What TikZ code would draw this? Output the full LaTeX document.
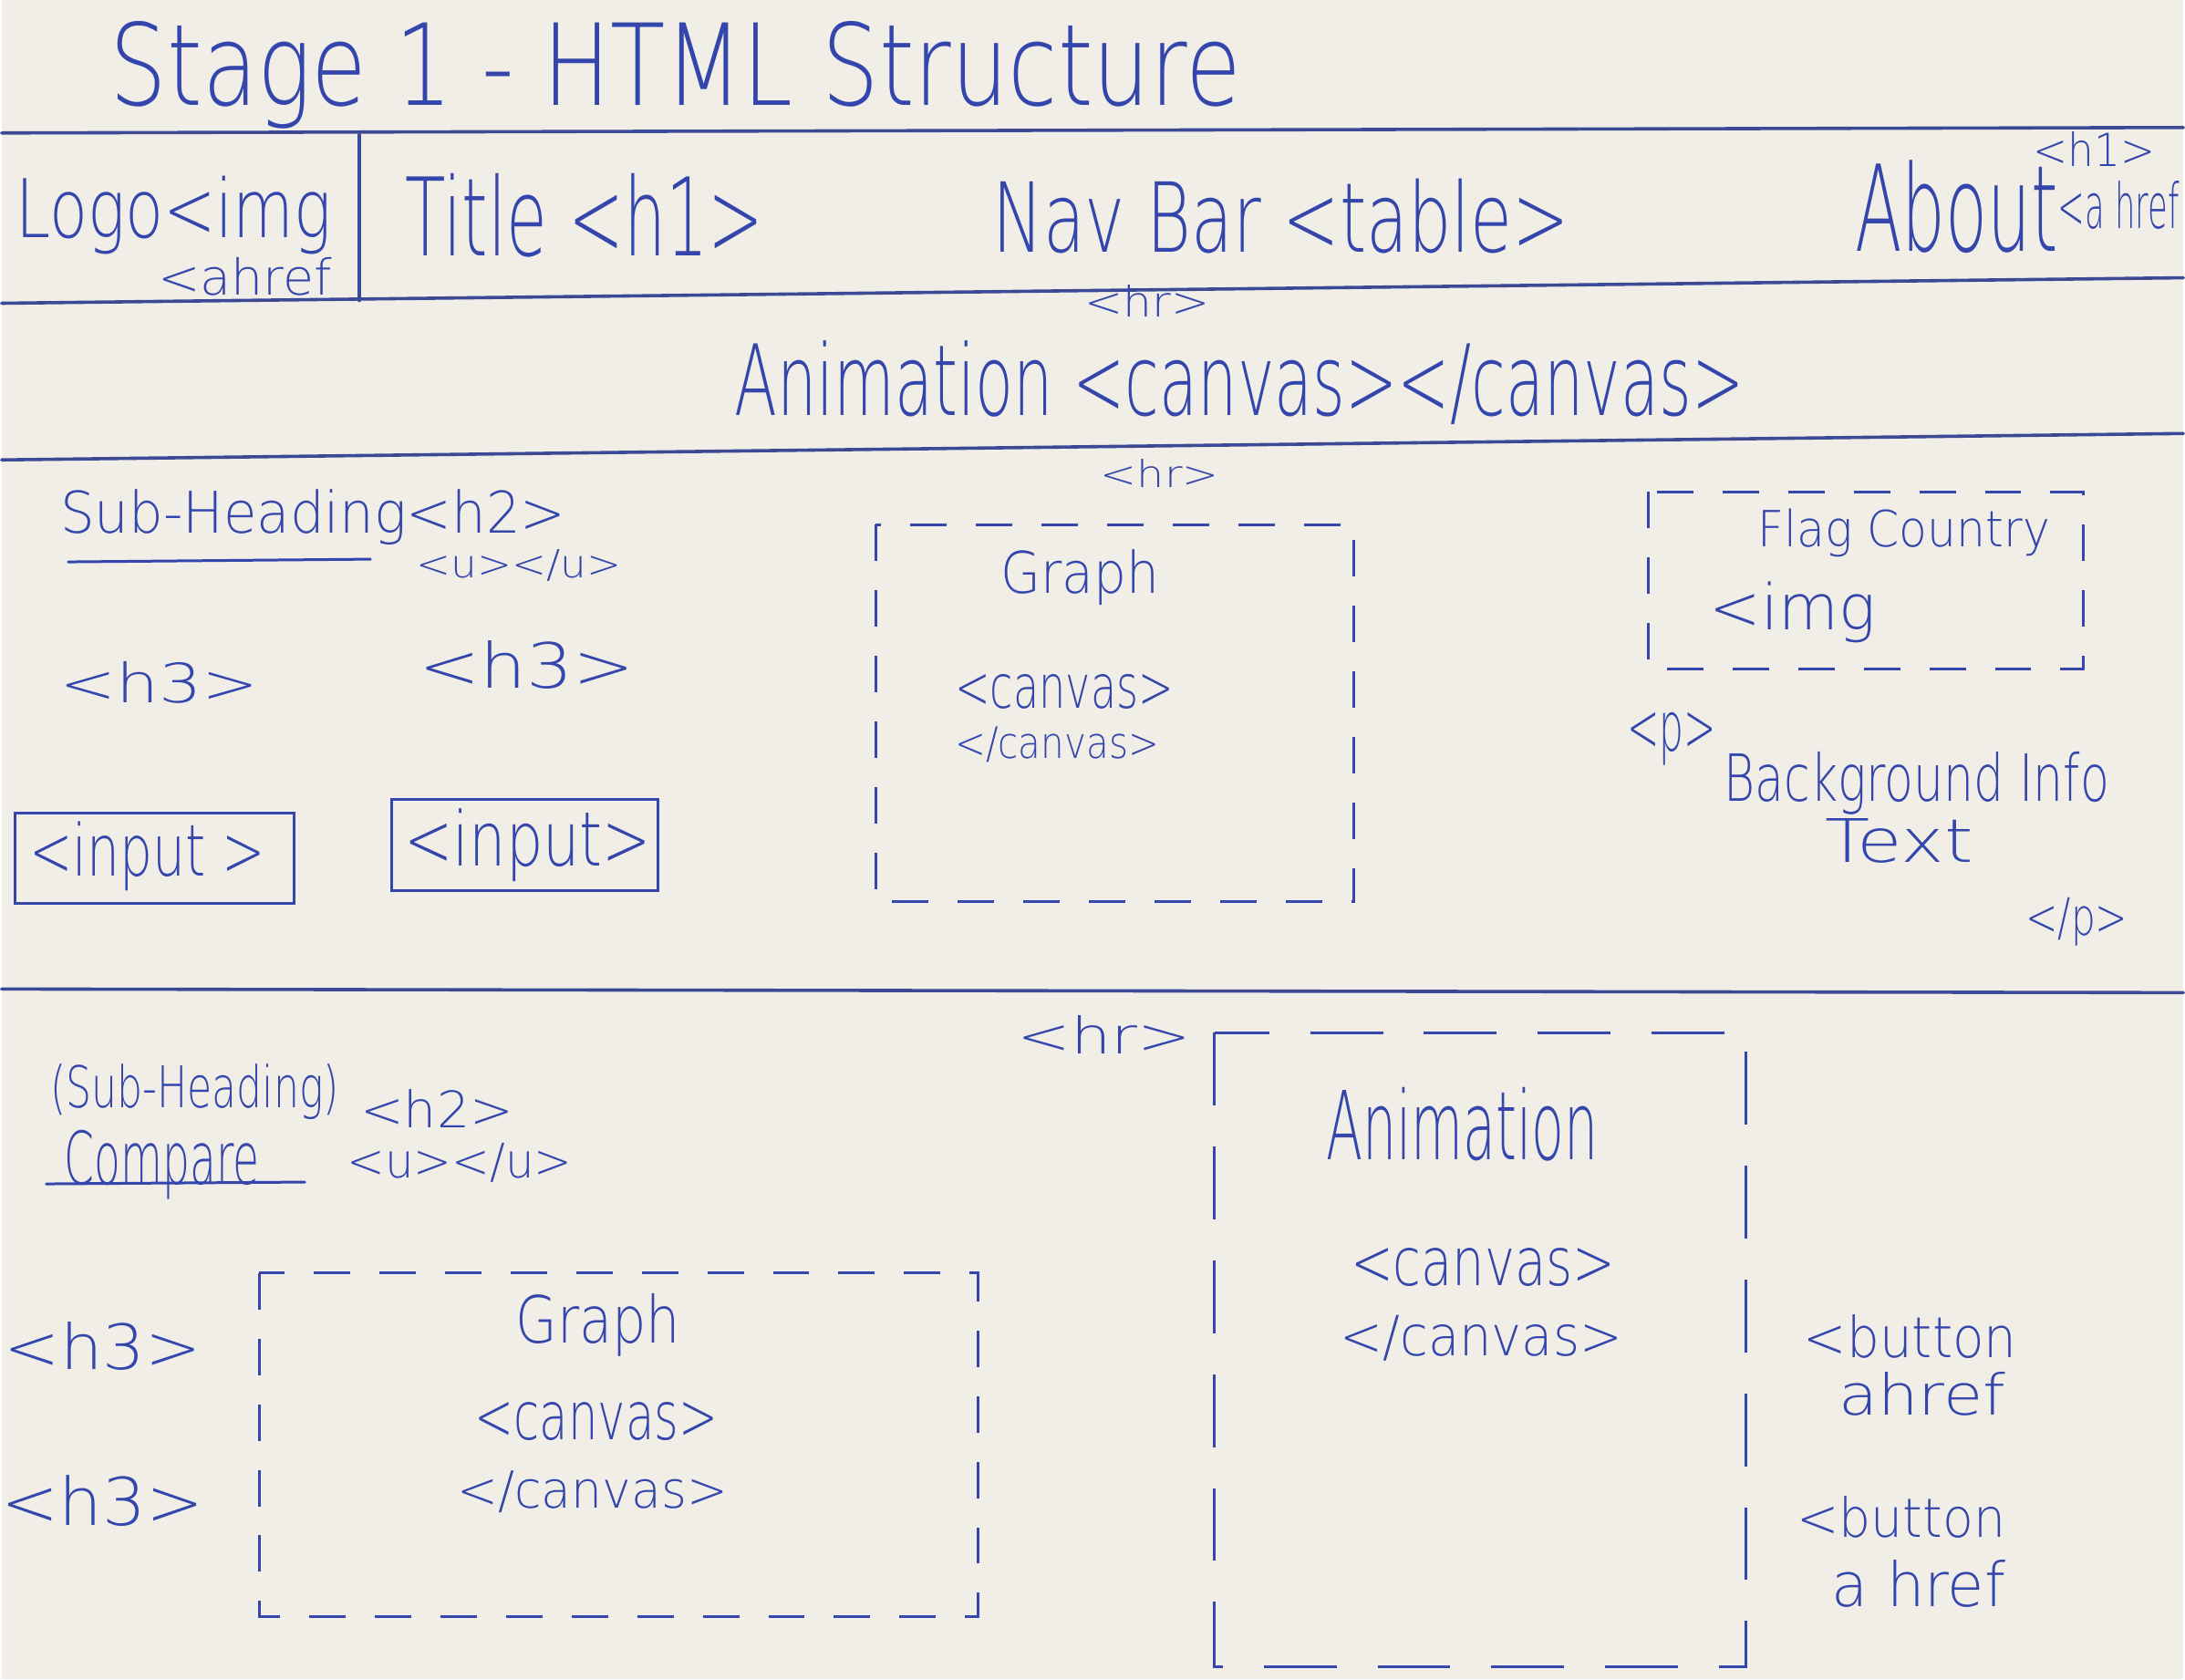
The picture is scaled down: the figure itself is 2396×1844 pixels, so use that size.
\documentclass[tikz,border=0pt]{standalone}
\usepackage{fontspec}
\usepackage{graphicx}
\setmainfont{DejaVu Sans ExtraLight}
\definecolor{ink}{RGB}{52,70,172}
\definecolor{rulecol}{RGB}{60,74,150}
\definecolor{paper}{RGB}{240,238,231}
% handwritten label fitted to a given width and total height (in pt)
\newcommand\pen[3]{\resizebox*{#1pt}{#2pt}{#3}}
\begin{document}
\begin{tikzpicture}[x=1pt,y=-1pt,
  hand/.style={text=ink,inner sep=0pt,outer sep=0pt,anchor=center},
  ruling/.style={draw=rulecol,line width=3.6pt,line cap=round},
  penline/.style={draw=ink,line width=3pt,line cap=round},
  dashbox/.style={draw=ink,line width=3pt,dash pattern=on 40pt off 32pt},
  tallbox/.style={draw=ink,line width=3pt,dash pattern=on 80pt off 45pt}]

% sheet of paper
\fill[paper] (0,0) rectangle (2396,1844);

% ---- page rulings ----
\draw[ruling] (0,146) -- (2396,140);
\draw[ruling] (0,333) -- (2396,305);
\draw[ruling] (393,148) -- (393,330);
\draw[ruling] (0,505) -- (2396,476);
\draw[ruling] (0,1086) -- (2396,1090);

% ---- heading ----
\node[hand] (title) at (740,82) {\pen{1241}{118}{Stage 1 - HTML Structure}};

% ---- header bar ----
\node[hand] (logo)   at (189,236)  {\pen{347}{86}{Logo<img}};
\node[hand] (logoa)  at (267,304)  {\pen{191}{42}{<ahref}};
\node[hand] (titleh) at (640,237)  {\pen{394}{92}{Title <h1>}};
\node[hand] (nav)    at (1405,237) {\pen{634}{82}{Nav Bar <table>}};
\node[hand] (abouth) at (2298,164) {\pen{134}{38}{<h1>}};
\node[hand] (about)  at (2147,227) {\pen{223}{102}{About}};
\node[hand] (abouta) at (2325,225) {\pen{133}{53}{<a href}};

% ---- animation strip ----
\node[hand] (hrA)  at (1258,331) {\pen{137}{35}{<hr>}};
\node[hand] (anim) at (1359,420) {\pen{1108}{92}{Animation <canvas></canvas>}};

% ---- middle section ----
\node[hand] (hrB) at (1272,520) {\pen{130}{31}{<hr>}};
\node[hand] (sub) at (342,568) {\pen{555}{61}{Sub-Heading<h2>}};
\draw[penline] (73,617) -- (405,614);
\node[hand] (subu) at (568,621) {\pen{225}{35}{<u></u>}};
\node[hand] (hthreeA) at (173,749) {\pen{219}{46}{<h3>}};
\node[hand] (hthreeB) at (577,730) {\pen{237}{53}{<h3>}};

\draw[penline] (15,893) rectangle (321,992);
\node[hand] (inA) at (160,940) {\pen{259}{76}{<input >}};
\draw[penline] (428,878) rectangle (721,978);
\node[hand] (inB) at (578,928) {\pen{271}{80}{<input>}};

\draw[dashbox] (960,576) rectangle (1485,990);
\node[hand] (graphA) at (1184,634) {\pen{174}{61}{Graph}};
\node[hand] (cvA)    at (1167,760) {\pen{240}{38}{<canvas>}};
\node[hand] (cvAend) at (1159,818) {\pen{224}{39}{</canvas>}};

\draw[dashbox] (1808,540) rectangle (2286,735);
\node[hand] (flag) at (2089,585) {\pen{321}{53}{Flag Country}};
\node[hand] (img)  at (1967,672) {\pen{182}{67}{<img}};

\node[hand] (popen) at (1834,811)  {\pen{98}{58}{<p>}};
\node[hand] (bg)    at (2103,860)  {\pen{423}{69}{Background Info}};
\node[hand] (bgtxt) at (2084,923)  {\pen{163}{49}{Text}};
\node[hand] (pend)  at (2279,1012) {\pen{112}{53}{</p>}};

% ---- lower section ----
\node[hand] (hrC) at (1211,1136) {\pen{191}{42}{<hr>}};

\draw[tallbox] (1332,1134) rectangle (1916,1830);
\node[hand] (animB)  at (1604,1235) {\pen{299}{81}{Animation}};
\node[hand] (cvB)    at (1627,1392) {\pen{291}{42}{<canvas>}};
\node[hand] (cvBend) at (1625,1469) {\pen{310}{50}{</canvas>}};

\node[hand] (subC)  at (212,1199) {\pen{317}{61}{(Sub-Heading)}};
\node[hand] (subCh) at (478,1217) {\pen{168}{42}{<h2>}};
\node[hand] (cmp)   at (176,1279) {\pen{214}{76}{Compare}};
\draw[penline] (49,1300) -- (333,1298);
\node[hand] (subCu) at (503,1277) {\pen{247}{43}{<u></u>}};

\draw[dashbox] (283,1398) rectangle (1072,1775);
\node[hand] (graphB) at (655,1455) {\pen{181}{69}{Graph}};
\node[hand] (cvC)    at (653,1561) {\pen{267}{42}{<canvas>}};
\node[hand] (cvCend) at (649,1638) {\pen{297}{46}{</canvas>}};

\node[hand] (hthreeC) at (111,1478) {\pen{216}{53}{<h3>}};
\node[hand] (hthreeD) at (111,1648) {\pen{222}{56}{<h3>}};

\node[hand] (btnA)  at (2096,1468) {\pen{234}{48}{<button}};
\node[hand] (btnAa) at (2109,1531) {\pen{183}{48}{ahref}};
\node[hand] (btnB)  at (2086,1666) {\pen{229}{46}{<button}};
\node[hand] (btnBa) at (2105,1739) {\pen{191}{52}{a href}};

\end{tikzpicture}
\end{document}
